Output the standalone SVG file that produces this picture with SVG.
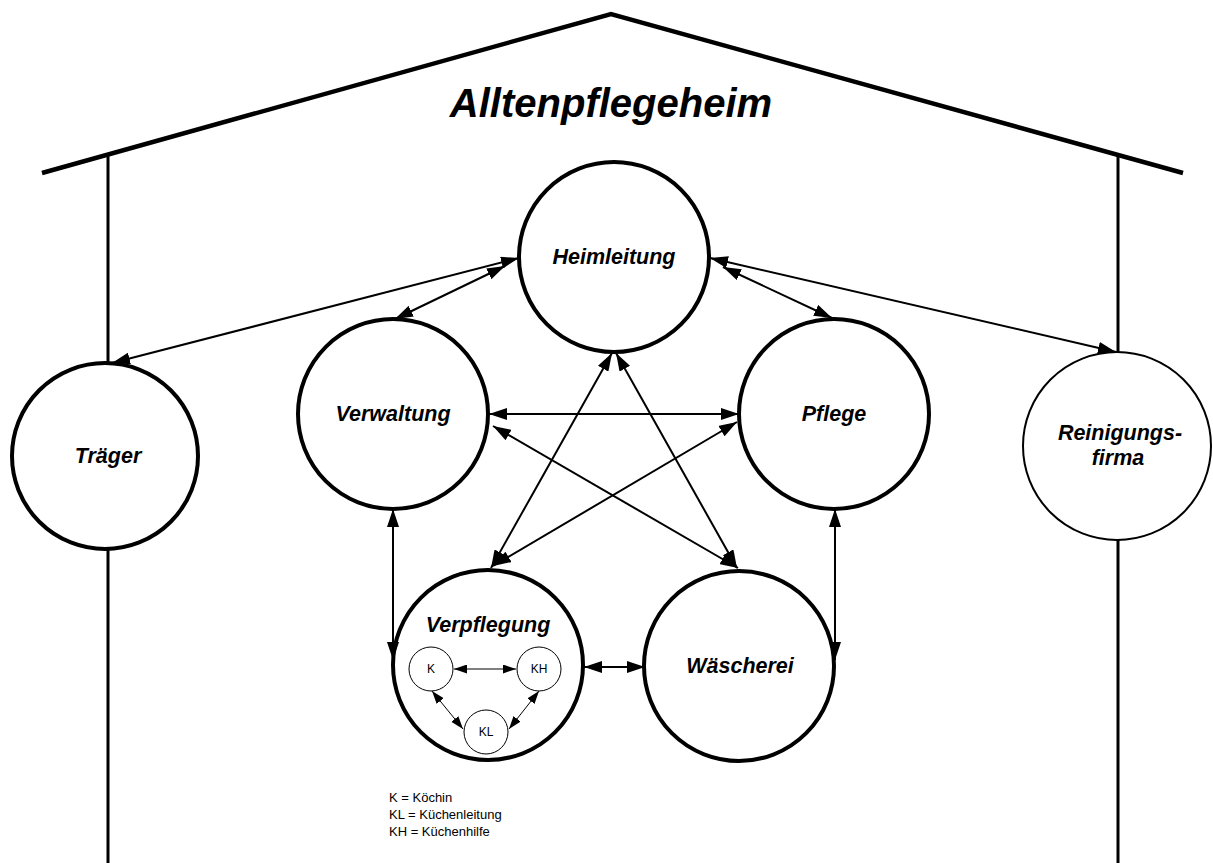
<svg xmlns="http://www.w3.org/2000/svg" width="1213" height="863" viewBox="0 0 1213 863">
  <style>
    .node { fill: #fff; stroke: #000; stroke-width: 4; }
    .thin { fill: #fff; stroke: #000; stroke-width: 2; }
    .sub { fill: #fff; stroke: #000; stroke-width: 1; }
    .label { font-family: "Liberation Sans", Arial, sans-serif; font-weight: bold; font-style: italic; font-size: 21.5px; text-anchor: middle; fill: #000; }
    .small { font-family: "Liberation Sans", Arial, sans-serif; font-size: 12px; text-anchor: middle; fill: #000; }
    .legend { font-family: "Liberation Sans", Arial, sans-serif; font-size: 13px; fill: #000; }
    .wall { stroke: #000; stroke-width: 3; fill: none; }
    .conn { stroke: #000; stroke-width: 2; fill: none; marker-start: url(#head); marker-end: url(#head); }
    .conn-s { stroke: #000; stroke-width: 1; fill: none; marker-start: url(#headS); marker-end: url(#headS); }
  </style>
  <defs>
    <marker id="head" viewBox="0 0 18 12" refX="18" refY="6" markerWidth="18" markerHeight="12" markerUnits="userSpaceOnUse" orient="auto-start-reverse">
      <path d="M0,0 L18,6 L0,12 Z" fill="#000"/>
    </marker>
    <marker id="headS" viewBox="0 0 13 9" refX="13" refY="4.5" markerWidth="13" markerHeight="9" markerUnits="userSpaceOnUse" orient="auto-start-reverse">
      <path d="M0,0 L13,4.5 L0,9 Z" fill="#000"/>
    </marker>
  </defs>

  <!-- house outline -->
  <g id="house">
    <polyline points="42,173 611,14 1183,173" fill="none" stroke="#000" stroke-width="4.5"/>
    <line class="wall" x1="108" y1="155" x2="108" y2="363"/>
    <line class="wall" x1="108" y1="549" x2="108" y2="863"/>
    <line class="wall" x1="1118" y1="155" x2="1118" y2="352"/>
    <line class="wall" x1="1118" y1="540" x2="1118" y2="863"/>
    <text x="611" y="117" font-family="'Liberation Sans', Arial, sans-serif" font-weight="bold" font-style="italic" font-size="40" text-anchor="middle">Alltenpflegeheim</text>
  </g>

  <g id="heimleitung">
    <circle class="node" cx="614" cy="257" r="95"/>
    <text class="label" x="614" y="264">Heimleitung</text>
  </g>
  <g id="verwaltung">
    <circle class="node" cx="393" cy="414" r="95"/>
    <text class="label" x="393" y="421">Verwaltung</text>
  </g>
  <g id="pflege">
    <circle class="node" cx="834" cy="414" r="95"/>
    <text class="label" x="834" y="421">Pflege</text>
  </g>
  <g id="traeger">
    <circle class="node" cx="105" cy="456" r="93"/>
    <text class="label" x="108" y="463">Träger</text>
  </g>
  <g id="reinigungsfirma">
    <circle class="thin" cx="1117" cy="446" r="94"/>
    <text class="label" x="1120" y="440">Reinigungs-</text>
    <text class="label" x="1118" y="465">firma</text>
  </g>
  <g id="waescherei">
    <circle class="node" cx="739" cy="666" r="95"/>
    <text class="label" x="740" y="673">Wäscherei</text>
  </g>
  <g id="verpflegung">
    <circle class="node" cx="488" cy="665" r="95"/>
    <text class="label" x="488" y="632">Verpflegung</text>
  </g>
  <g id="k">
    <circle class="sub" cx="431" cy="669" r="22"/>
    <text class="small" x="431" y="673">K</text>
  </g>
  <g id="kh">
    <circle class="sub" cx="539" cy="669" r="22"/>
    <text class="small" x="539" y="673">KH</text>
  </g>
  <g id="kl">
    <circle class="sub" cx="486" cy="732" r="22"/>
    <text class="small" x="486" y="736">KL</text>
  </g>

  <!-- connectors: double-headed arrows between circle edges -->
  <g id="connectors">
    <line class="conn" x1="519" y1="258" x2="112" y2="363"/>
    <line class="conn" x1="505" y1="266" x2="395" y2="319"/>
    <line class="conn" x1="723" y1="267" x2="832" y2="318"/>
    <line class="conn" x1="710" y1="258" x2="1116" y2="352"/>
    <line class="conn" x1="489" y1="414" x2="739" y2="414"/>
    <line class="conn" x1="612" y1="353" x2="491" y2="568"/>
    <line class="conn" x1="616" y1="353" x2="737" y2="568"/>
    <line class="conn" x1="493" y1="426" x2="738" y2="568"/>
    <line class="conn" x1="737" y1="422" x2="493" y2="566"/>
    <line class="conn" x1="393" y1="509" x2="393" y2="660"/>
    <line class="conn" x1="835" y1="509" x2="835" y2="660"/>
    <line class="conn" x1="584" y1="667" x2="645" y2="667" stroke-width="3"/>
    <line class="conn-s" x1="454" y1="669" x2="516" y2="669"/>
    <line class="conn-s" x1="432" y1="691" x2="463" y2="729"/>
    <line class="conn-s" x1="539" y1="691" x2="509" y2="729"/>
  </g>

  <g id="legend">
    <text class="legend" x="389" y="802">K = Köchin</text>
    <text class="legend" x="389" y="819">KL = Küchenleitung</text>
    <text class="legend" x="389" y="836">KH = Küchenhilfe</text>
  </g>
</svg>
